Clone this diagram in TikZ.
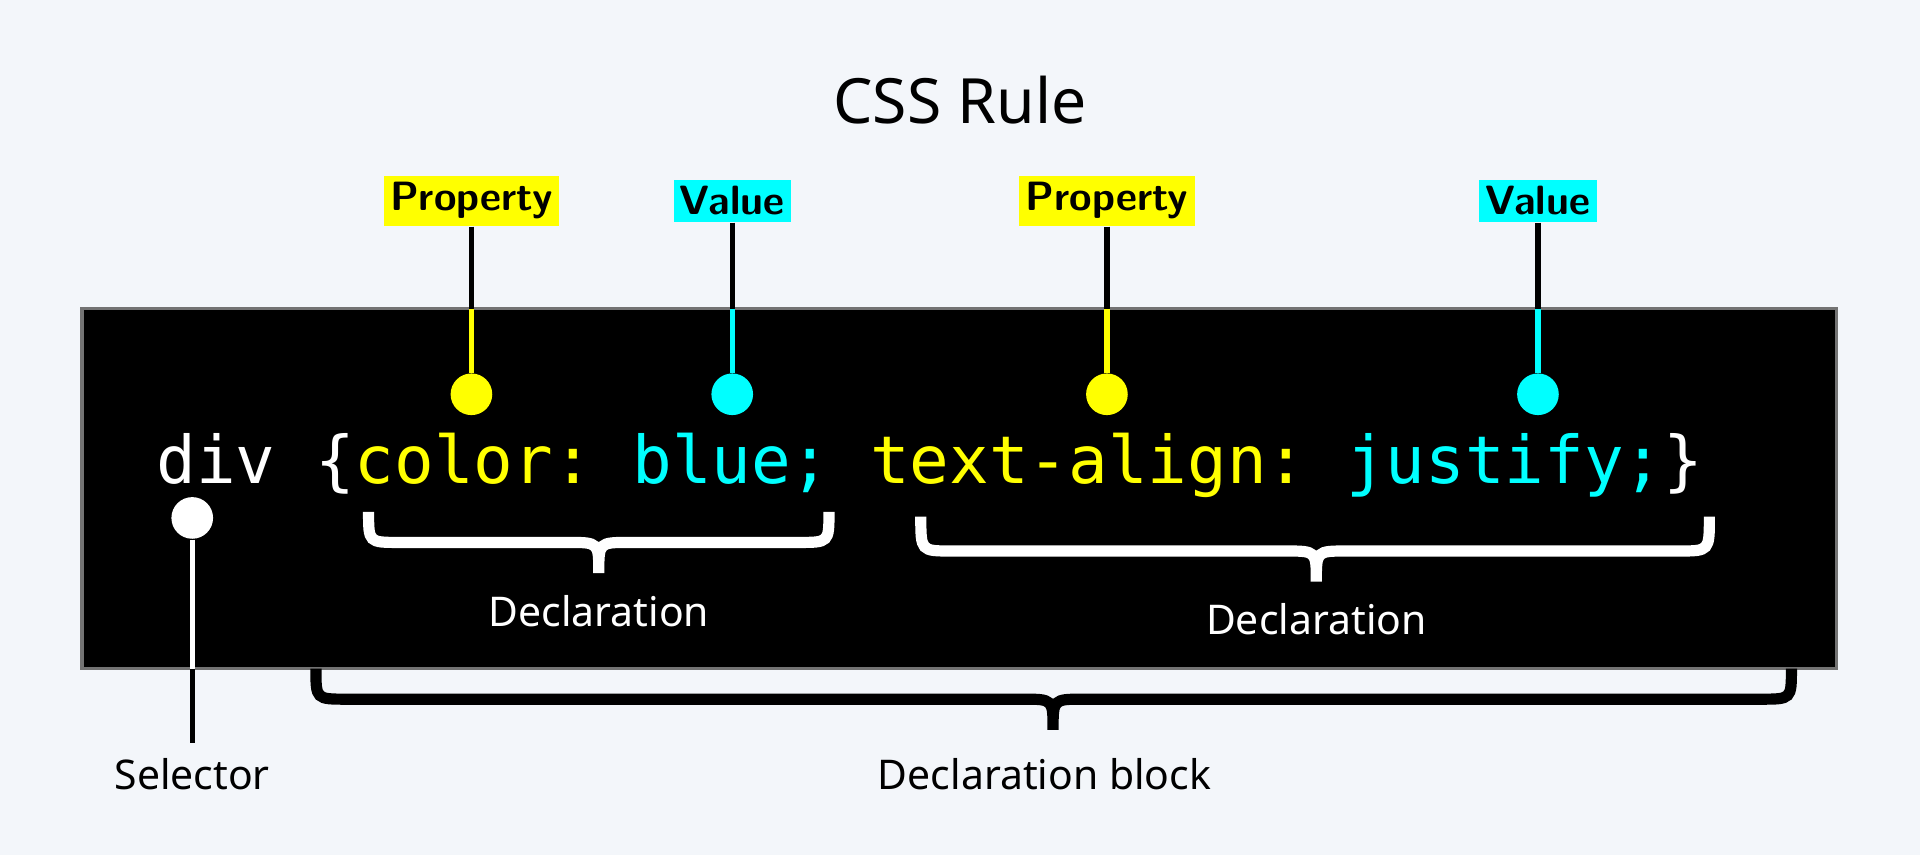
\documentclass[tikz,border=0pt]{standalone}
\usepackage{fontspec}
\setmainfont{Noto Sans}
\setmonofont{DejaVu Sans Mono}
\definecolor{bgpaper}{HTML}{F3F6FA}
\definecolor{propyellow}{HTML}{FFFF00}
\definecolor{valcyan}{HTML}{00FFFF}
\newcommand{\cssbrace}[6]{% x1, x2, top, mid, tip x, tip y
  \draw[#6] (#1,#3) .. controls (#1,#4) .. (#1+25,#4) -- (#5-25,#4)
    .. controls (#5,#4) .. (#5,#4+25) .. controls (#5,#4) .. (#5+25,#4)
    -- (#2-25,#4) .. controls (#2,#4) .. (#2,#3);}
\tikzset{
  tag/.style={font=\sffamily\bfseries\fontsize{9.5}{11}\selectfont, inner sep=1.5pt, text=black},
  caption/.style={font=\bfseries\fontsize{9.5}{11}\selectfont},
  pin/.style={line width=1.2pt},
  dot/.style={circle, fill, inner sep=0pt, minimum size=3.4mm},
  code/.style={font=\ttfamily\fontsize{15.3}{18}\selectfont, anchor=base west, inner sep=0pt}
}
\begin{document}
\begin{tikzpicture}[x=0.01cm, y=-0.01cm]
	\fill[bgpaper] (0,0) rectangle (1568,698);
	\useasboundingbox (0,0) rectangle (1568,698);

	\node[font=\bfseries\fontsize{14.5}{17}\selectfont] (title) at (784,82) {CSS Rule};

	% code box
	\filldraw[fill=black, draw=black!55, line width=0.8pt] (67,252) rectangle (1500,546);
	\node[code, white] (css) at (127,395) {div {\{}\textcolor{propyellow}{color:} \textcolor{valcyan}{blue;} \textcolor{propyellow}{text-align:} \textcolor{valcyan}{justify;}\}};

	% property / value pins
	\foreach \x/\lbl/\col [count=\i] in {385/Property/propyellow, 598/Value/valcyan, 904/Property/propyellow, 1256/Value/valcyan} {
		\node[tag, fill=\col] (tag\i) at (\x,164) {\lbl};
		\node[dot, fill=\col] (dot\i) at (\x,322) {};
		\coordinate (edge\i) at (\x,252);
		\draw[pin, black] (tag\i.south) -- (edge\i);
		\draw[pin, \col] (edge\i) -- (dot\i);
	}

	% selector
	\node[dot, fill=white] (seldot) at (157,423) {};
	\coordinate (seledge) at (157,546);
	\node[caption] (selector) at (157,632) {Selector};
	\draw[pin, white] (seldot) -- (seledge);
	\draw[pin, black] (seledge) -- (selector.north);

	% declarations
	\cssbrace{301}{677}{418}{443}{489}{white, line width=2.6pt}
	\node[caption, white] (decl1) at (489,499) {Declaration};
	\cssbrace{752}{1396}{422}{450}{1075}{white, line width=2.6pt}
	\node[caption, white] (decl2) at (1075,506) {Declaration};

	% declaration block
	\cssbrace{258}{1463}{546}{571}{860}{black, line width=2.6pt}
	\node[caption] (block) at (853,632) {Declaration block};
\end{tikzpicture}
\end{document}
